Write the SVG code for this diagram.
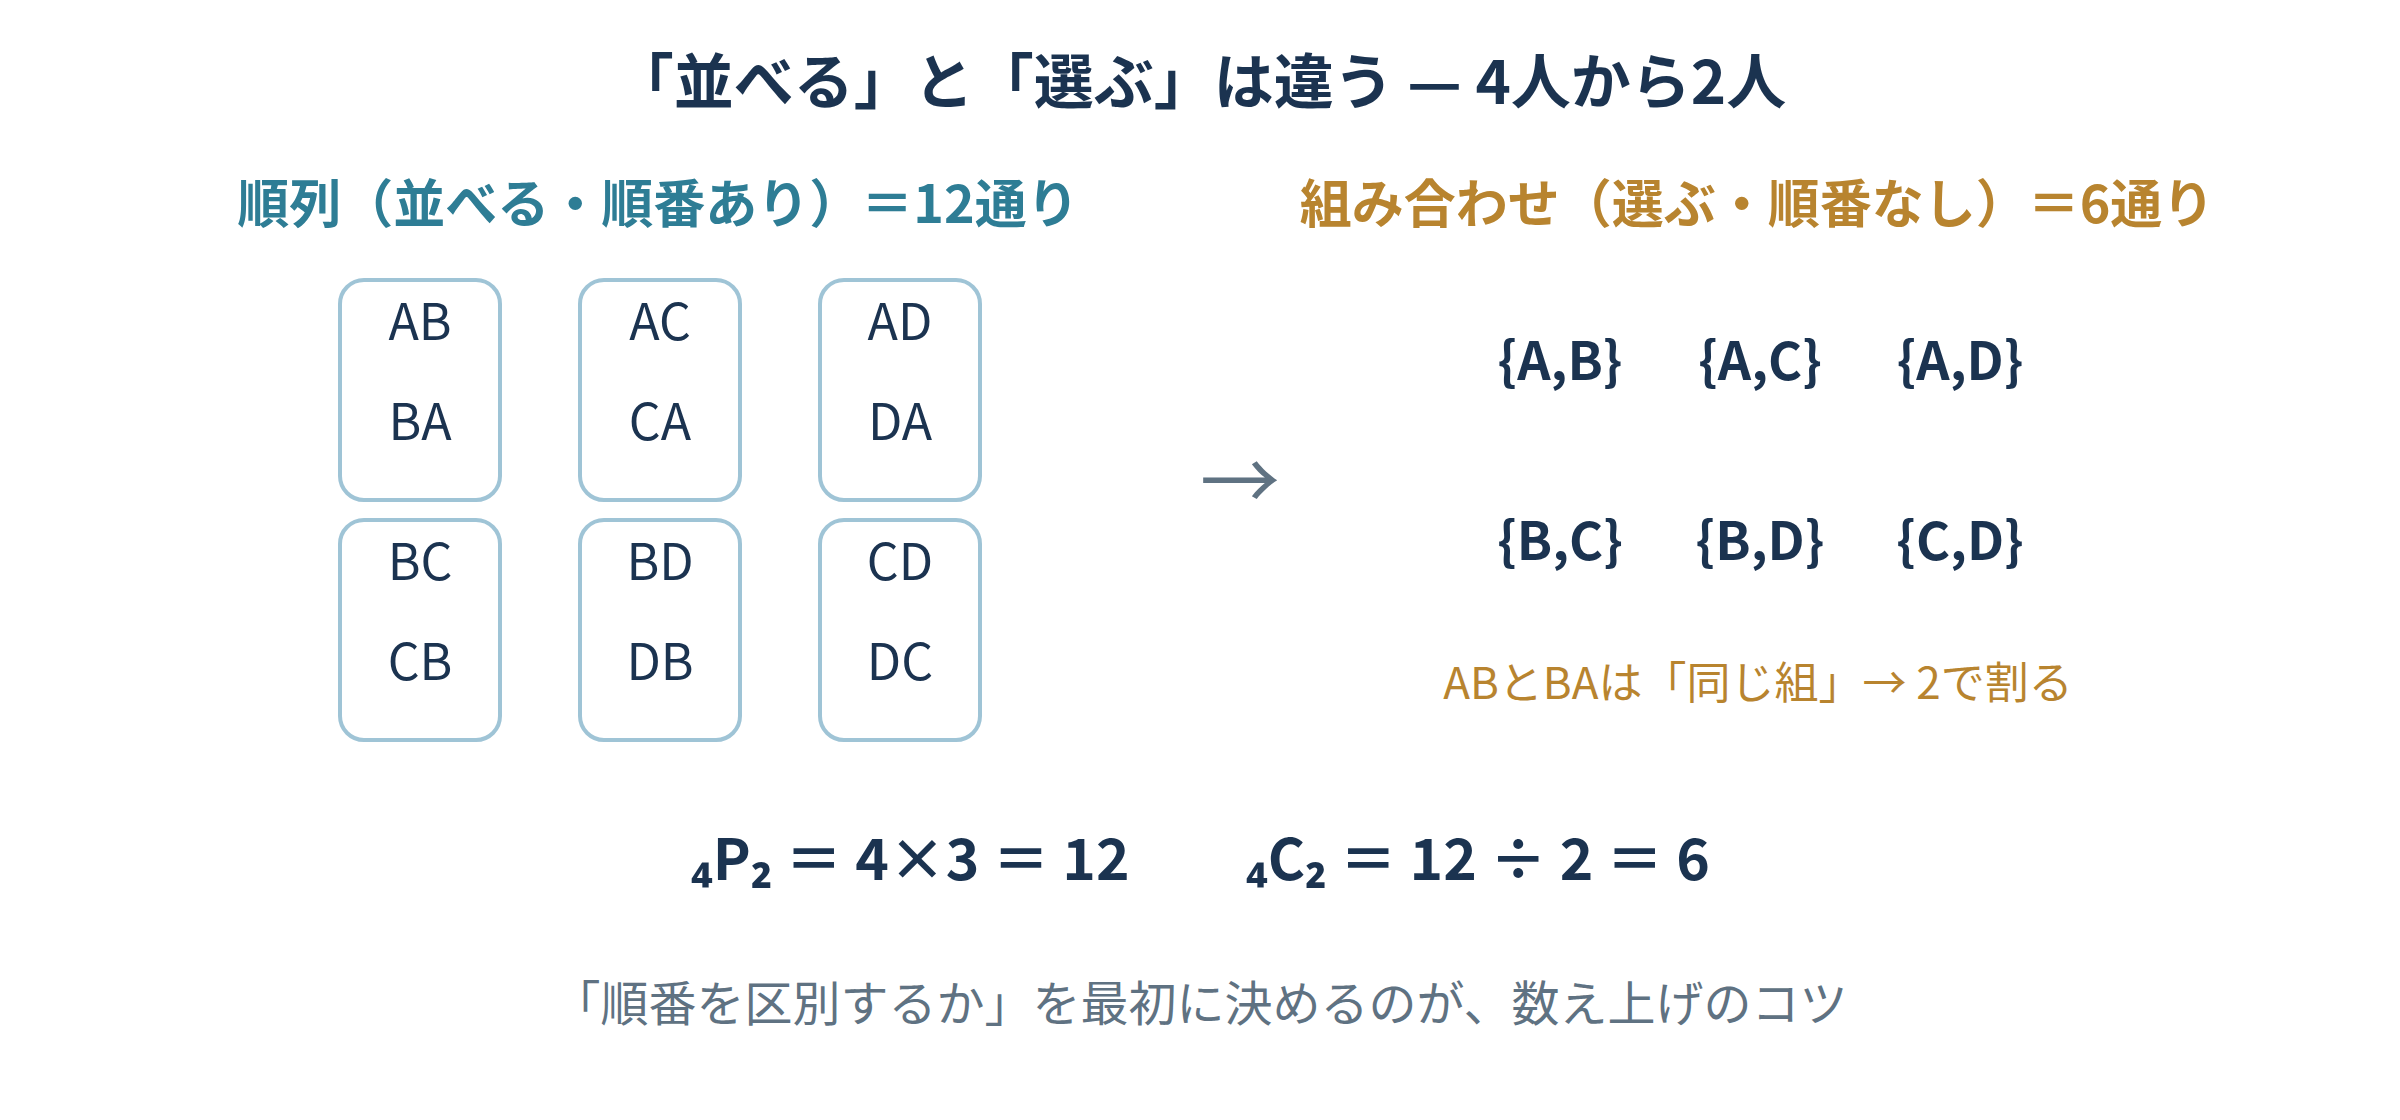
<svg xmlns="http://www.w3.org/2000/svg" width="2400" height="1120" viewBox="0 0 2400 1120">
<style>
text{font-family:"Noto Sans CJK JP","Noto Sans",sans-serif}
.title{font-size:60px;font-weight:700;fill:#1b3350;text-anchor:middle}
.subL{font-size:52px;font-weight:700;fill:#2e7d95;text-anchor:middle}
.subR{font-size:52px;font-weight:700;fill:#b8842f;text-anchor:middle}
.box{fill:#ffffff;stroke:#9fc4d6;stroke-width:4}
.pair{font-size:50px;fill:#1b3350;text-anchor:middle}
.set{font-size:52px;font-weight:700;fill:#1b3350;text-anchor:middle}
.note{font-size:44px;fill:#b8842f;text-anchor:middle}
.formula{font-size:57px;font-weight:700;fill:#1b3350}
.foot{font-size:48px;fill:#5f7282;text-anchor:middle}
.arrow{font-size:80px;fill:#5f7282;text-anchor:middle}
</style>
<rect width="2400" height="1120" fill="#ffffff"/>
<text class="title" x="1200" y="104">「並べる」と「選ぶ」は違う — 4人から2人</text>
<text class="subL" x="658" y="223">順列（並べる・順番あり）＝12通り</text>
<text class="subR" x="1757" y="223">組み合わせ（選ぶ・順番なし）＝6通り</text>
<g id="perm-AB"><rect class="box" x="340" y="280" width="160" height="220" rx="24"/><text class="pair" x="420" y="340">AB</text><text class="pair" x="420" y="440">BA</text></g>
<g id="perm-AC"><rect class="box" x="580" y="280" width="160" height="220" rx="24"/><text class="pair" x="660" y="340">AC</text><text class="pair" x="660" y="440">CA</text></g>
<g id="perm-AD"><rect class="box" x="820" y="280" width="160" height="220" rx="24"/><text class="pair" x="900" y="340">AD</text><text class="pair" x="900" y="440">DA</text></g>
<g id="perm-BC"><rect class="box" x="340" y="520" width="160" height="220" rx="24"/><text class="pair" x="420" y="580">BC</text><text class="pair" x="420" y="680">CB</text></g>
<g id="perm-BD"><rect class="box" x="580" y="520" width="160" height="220" rx="24"/><text class="pair" x="660" y="580">BD</text><text class="pair" x="660" y="680">DB</text></g>
<g id="perm-CD"><rect class="box" x="820" y="520" width="160" height="220" rx="24"/><text class="pair" x="900" y="580">CD</text><text class="pair" x="900" y="680">DC</text></g>
<g id="connectors"><text class="arrow" x="1240" y="510">→</text></g>
<g id="comb-AB"><text class="set" x="1560" y="380">{A,B}</text></g>
<g id="comb-AC"><text class="set" x="1760" y="380">{A,C}</text></g>
<g id="comb-AD"><text class="set" x="1960" y="380">{A,D}</text></g>
<g id="comb-BC"><text class="set" x="1560" y="560">{B,C}</text></g>
<g id="comb-BD"><text class="set" x="1760" y="560">{B,D}</text></g>
<g id="comb-CD"><text class="set" x="1960" y="560">{C,D}</text></g>
<text class="note" x="1758" y="699">ABとBAは「同じ組」→ 2で割る</text>
<text class="formula" x="691" y="880">₄P₂ ＝ 4×3 ＝ 12</text>
<text class="formula" x="1246" y="880">₄C₂ ＝ 12 ÷ 2 ＝ 6</text>
<text class="foot" x="1200" y="1021">「順番を区別するか」を最初に決めるのが、数え上げのコツ</text>
</svg>
